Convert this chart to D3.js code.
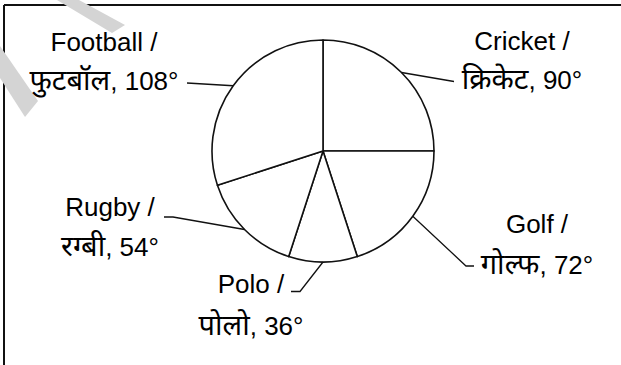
<!DOCTYPE html>
<html>
<head>
<meta charset="utf-8">
<script src="https://cdn.jsdelivr.net/npm/d3@7"></script>
<style>
  html, body { margin: 0; padding: 0; background: #fff; }
  svg { display: block; }
  text { font-family: "Liberation Sans", Arial, "Noto Sans", sans-serif; font-size: 26px; fill: #000; }
  tspan.hi { font-size: 29px; }
</style>
</head>
<body>
<svg id="chart" width="621" height="365"></svg>
<script>
// ---- data ----
const categories = ["Cricket", "Golf", "Polo", "Rugby", "Football"];
const hindiNames = ["क्रिकेट", "गोल्फ", "पोलो", "रग्बी", "फुटबॉल"];
const degrees = [90, 72, 36, 54, 108];

// ---- layout ----
const W = 621, H = 365;
const cx = 323, cy = 151, R = 111;
const labelLayout = {
  Cricket:  { x: 522, y1: 50,  y2: 89,  path: [[454, 81.5]] },
  Golf:     { x: 537, y1: 233, y2: 274, path: [[466, 266], [474, 266]] },
  Polo:     { x: 251, y1: 293, y2: 335, path: [[300, 291.5], [291, 291.5]] },
  Rugby:    { x: 110, y1: 216, y2: 256, path: [[173, 217], [164, 217]] },
  Football: { x: 104, y1: 51, y2: 90, path: [[187, 83]] }
};

const svg = d3.select("#chart");

// frame (top and left rules)
svg.append("line").attr("x1", 4).attr("y1", 5).attr("x2", W).attr("y2", 5)
  .attr("stroke", "#111").attr("stroke-width", 2);
svg.append("line").attr("x1", 4).attr("y1", 5).attr("x2", 4).attr("y2", H)
  .attr("stroke", "#111").attr("stroke-width", 2);

// faint watermark stripes
const stripes = [
  [[57, 0], [79, 0], [125, 25], [112, 33]],
  [[0, 46], [38, 101], [25, 117], [0, 78]]
];
svg.selectAll("polygon.wm").data(stripes).join("polygon")
  .attr("class", "wm")
  .attr("points", d => d.map(p => p.join(",")).join(" "))
  .attr("fill", "#d4d4d4");

// pie
const pie = d3.pie().sort(null).value(d => d).startAngle(0).endAngle(2 * Math.PI);
const arcs = pie(degrees);
const arcGen = d3.arc().innerRadius(0).outerRadius(R);

const g = svg.append("g").attr("transform", `translate(${cx},${cy})`);
g.selectAll("path.slice").data(arcs).join("path")
  .attr("class", "slice")
  .attr("d", arcGen)
  .attr("fill", "#fff")
  .attr("stroke", "#111")
  .attr("stroke-width", 1.6)
  .attr("stroke-linejoin", "round");

// leader lines
const line = d3.line();
arcs.forEach((a, i) => {
  const name = categories[i];
  const L = labelLayout[name];
  const mid = (a.startAngle + a.endAngle) / 2;
  const start = [cx + R * Math.sin(mid), cy - R * Math.cos(mid)];
  svg.append("path")
    .attr("d", line([start, ...L.path]))
    .attr("fill", "none")
    .attr("stroke", "#111")
    .attr("stroke-width", 1.3);
});

// labels
categories.forEach((name, i) => {
  const L = labelLayout[name];
  svg.append("text")
    .attr("x", L.x).attr("y", L.y1)
    .attr("text-anchor", "middle")
    .text(name + " /");
  const t = svg.append("text")
    .attr("x", L.x).attr("y", L.y2)
    .attr("text-anchor", "middle");
  t.append("tspan").attr("class", "hi").text(hindiNames[i]);
  t.append("tspan").text(", " + degrees[i] + "°");
});
</script>
</body>
</html>
